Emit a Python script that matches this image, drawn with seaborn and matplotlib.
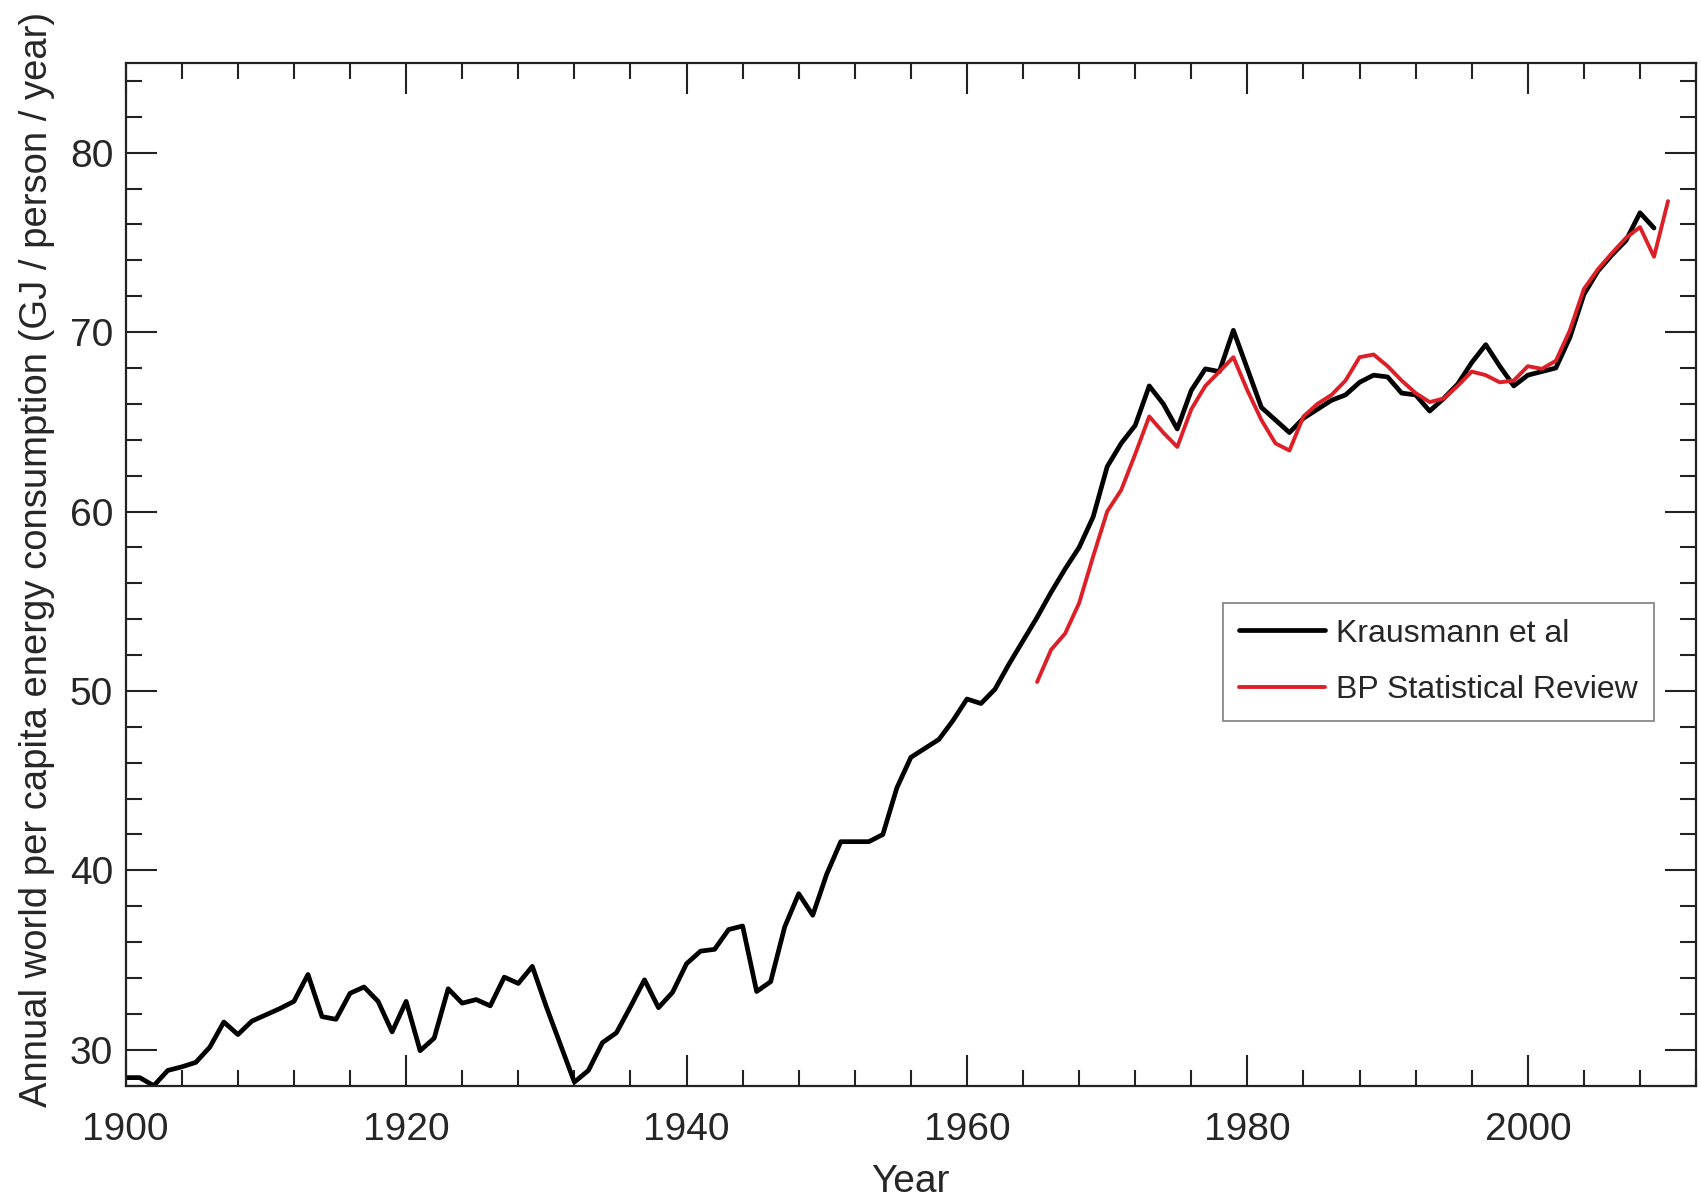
import numpy as np
import pandas as pd
import matplotlib
matplotlib.use("Agg")
import matplotlib.pyplot as plt
from matplotlib.ticker import MultipleLocator
import seaborn as sns

# ---- data ----
kr_years = list(range(1900, 2010))
kr_values = [
    28.45, 28.45, 28.0, 28.85, 29.05, 29.3, 30.15, 31.55, 30.85, 31.6,
    31.95, 32.3, 32.7, 34.2, 31.85, 31.7, 33.15, 33.5, 32.7, 31.0,
    32.7, 29.95, 30.65, 33.4, 32.6, 32.8, 32.45, 34.05, 33.7, 34.65,
    32.4, 30.3, 28.2, 28.85, 30.4, 30.95, 32.4, 33.9, 32.35, 33.2,
    34.8, 35.5, 35.6, 36.7, 36.9, 33.25, 33.8, 36.85, 38.7, 37.5,
    39.8, 41.6, 41.6, 41.6, 42.0, 44.6, 46.3, 46.8, 47.3, 48.35,
    49.55, 49.3, 50.1, 51.5, 52.8, 54.1, 55.5, 56.8, 58.0, 59.7,
    62.5, 63.8, 64.8, 67.0, 66.0, 64.6, 66.75, 67.95, 67.8, 70.1,
    67.95, 65.8, 65.1, 64.4, 65.2, 65.7, 66.2, 66.5, 67.2, 67.6,
    67.5, 66.6, 66.5, 65.6, 66.3, 67.1, 68.3, 69.3, 68.1, 67.0,
    67.6, 67.8, 68.0, 69.7, 72.1, 73.4, 74.3, 75.1, 76.65, 75.8,
]
bp_years = list(range(1965, 2011))
bp_values = [
    50.5, 52.3, 53.2, 54.9, 57.5, 60.0, 61.2, 63.2, 65.3, 64.4,
    63.6, 65.7, 67.0, 67.8, 68.6, 66.75, 65.1, 63.8, 63.4, 65.3,
    66.0, 66.5, 67.3, 68.6, 68.75, 68.1, 67.3, 66.6, 66.1, 66.3,
    67.0, 67.8, 67.6, 67.2, 67.3, 68.1, 67.95, 68.4, 70.1, 72.4,
    73.5, 74.4, 75.25, 75.85, 74.2, 77.3,
]
series_names = ["Krausmann et al", "BP Statistical Review"]
series_colors = ["black", "#dd2027"]
series_widths = [3.4, 2.8]
x_major_ticks = [1900, 1920, 1940, 1960, 1980, 2000]
y_major_ticks = [30, 40, 50, 60, 70, 80]

df = pd.concat([
    pd.DataFrame({"Year": kr_years, "Value": kr_values, "Source": series_names[0]}),
    pd.DataFrame({"Year": bp_years, "Value": bp_values, "Source": series_names[1]}),
], ignore_index=True)

# ---- style ----
sns.set_theme(style="ticks")
plt.rcParams["font.family"] = ["Liberation Sans", "DejaVu Sans"]

fig = plt.figure(figsize=(17.01, 11.99), dpi=100)
ax = fig.add_axes([0.0739, 0.0945, 0.9232, 0.853])

sns.lineplot(data=df, x="Year", y="Value", hue="Source",
             palette=dict(zip(series_names, series_colors)),
             ax=ax, estimator=None, sort=False, legend=True)

width_by_color = {matplotlib.colors.to_hex(c): w for c, w in zip(series_colors, series_widths)}
for ln in ax.lines:
    c = matplotlib.colors.to_hex(ln.get_color())
    if c in width_by_color:
        ln.set_linewidth(width_by_color[c])
        ln.set_zorder(2 if c == "#000000" else 3)

ax.set_xlim(1900, 2012)
ax.set_ylim(28, 85)
ax.set_xticks(x_major_ticks)
ax.set_yticks(y_major_ticks)
ax.xaxis.set_minor_locator(MultipleLocator(4))
ax.yaxis.set_minor_locator(MultipleLocator(2))

for s in ax.spines.values():
    s.set_visible(True)
    s.set_linewidth(1.6)
    s.set_color("#222222")

ax.tick_params(which="both", direction="in", top=True, right=True,
               color="#222222", width=1.5)
ax.tick_params(which="major", length=22.5)
ax.tick_params(which="minor", length=11.5)
ax.tick_params(axis="x", which="major", labelsize=28, pad=19)
ax.tick_params(axis="y", which="major", labelsize=28, pad=9)

ax.set_xlabel("Year", fontsize=28)
ax.set_ylabel("Annual world per capita energy consumption (GJ / person / year)", fontsize=27.5)
ax.xaxis.set_label_coords(0.5, -0.077)
ax.yaxis.set_label_coords(-0.045, 0.515)

leg = ax.legend(loc="upper left", bbox_to_anchor=(0.6986, 0.4723),
                borderaxespad=0, fontsize=23, frameon=True, fancybox=False,
                handlelength=2.7, handletextpad=0.35, borderpad=0.5,
                labelspacing=0.82, title=None)
leg.get_frame().set_edgecolor("#888888")
leg.get_frame().set_linewidth(1.3)
leg.get_frame().set_alpha(1)
for lh in leg.get_lines():
    c = matplotlib.colors.to_hex(lh.get_color())
    lh.set_linewidth(width_by_color.get(c, 3.0))

fig.savefig("out.png", dpi=100)
